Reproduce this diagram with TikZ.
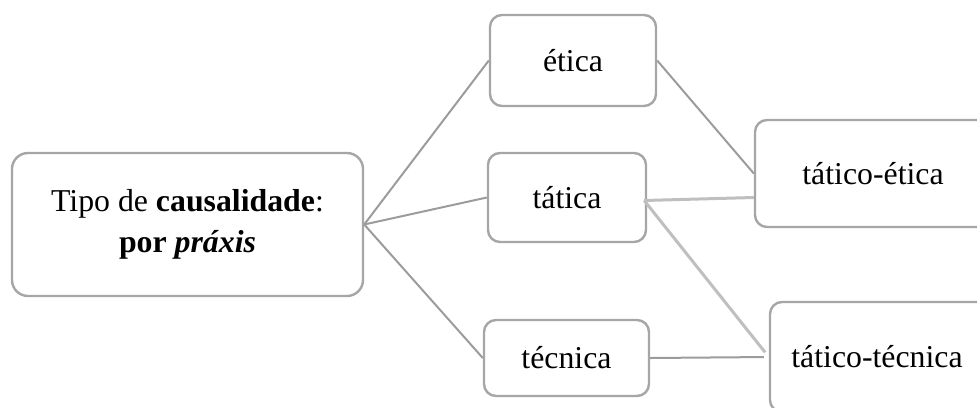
\documentclass[tikz,border=0pt]{standalone}
\usepackage{fontspec}
\setmainfont{Liberation Serif}
\usetikzlibrary{positioning}

\definecolor{boxgray}{HTML}{A6A6A6}
\definecolor{linegray}{HTML}{9C9C9C}
\definecolor{lightgray}{HTML}{BFBFBF}

\begin{document}
\begin{tikzpicture}[x=0.5pt,y=-0.5pt,
    box/.style={draw=boxgray,line width=1.2pt,rounded corners=6pt,fill=white,
                inner sep=0pt,align=center,font=\fontsize{15.9}{20.5}\selectfont},
    link/.style={draw=linegray,line width=1pt}]
                \useasboundingbox (0,0) rectangle (977,407);

                \node[box, rounded corners=8pt,
                      minimum width=175.5pt, minimum height=71.5pt] (1) at (187.5,224.5)
                      {Tipo de \textbf{causalidade}:\\\textbf{por \textit{práxis}}};
                \node[box, minimum width=83pt,  minimum height=45.5pt] (2) at (573,60.5)  {ética};
                \node[box, minimum width=79pt,  minimum height=44.5pt] (3) at (567,197.5) {tática};
                \node[box, minimum width=82.5pt,minimum height=38pt]   (4) at (566.5,358) {técnica};
                \node[box, minimum width=118pt, minimum height=53.5pt] (5) at (873,173.5) {tático-ética};
                \node[box, minimum width=116pt, minimum height=55pt]   (6) at (886,357)   {\hspace*{-9pt}tático-técnica};

                    \draw[link]
                             (1.east) edge (2.west)
                                      edge (3.west)
                                      edge (4.west)
                             (2.east) edge (5.west)
                             (4.east) edge [shorten >=2.5pt] (6.west);
                    \draw[link, draw=lightgray, line width=1.5pt]
                             ([xshift=-1.5pt,yshift=-1.5pt]3.east)
                                      edge (5.west |- 3.east)
                                      edge [shorten >=3pt] (6.west);
		\end{tikzpicture}
\end{document}
